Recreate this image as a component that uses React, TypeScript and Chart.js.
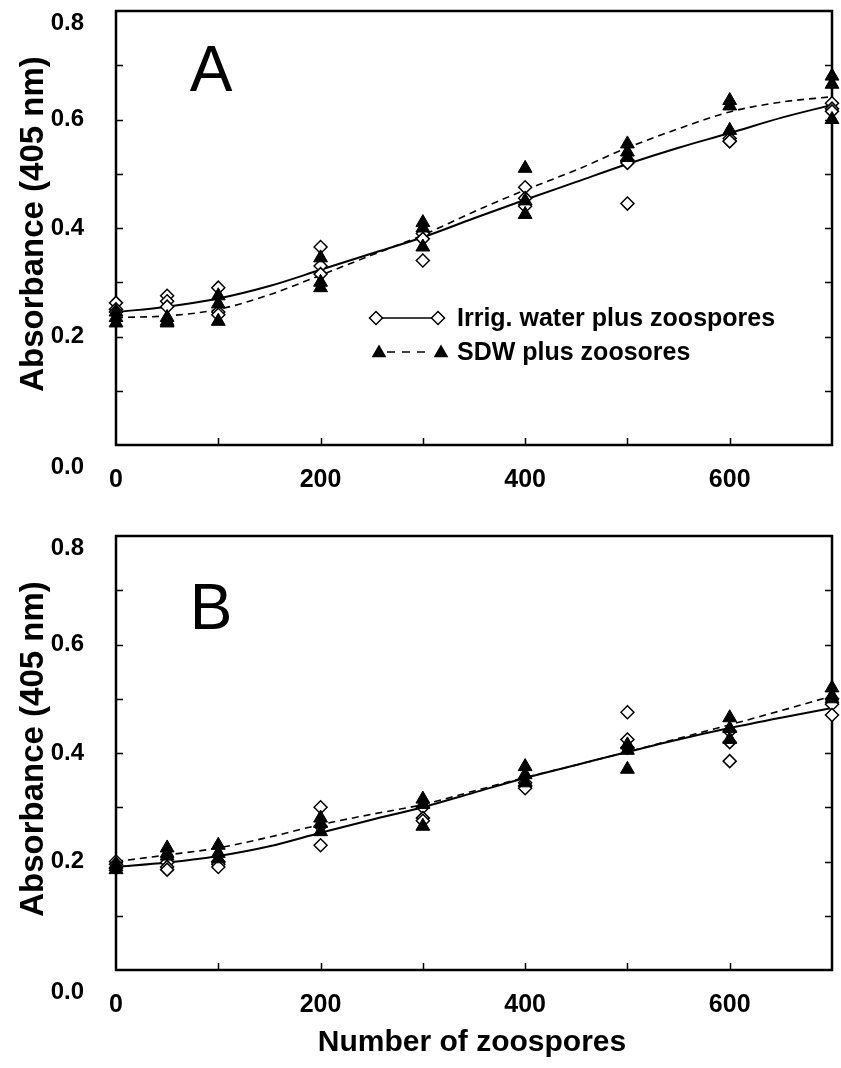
import React, { useEffect, useRef } from "react";
import { Chart, registerables } from "chart.js";

Chart.register(...registerables);

// ---------- data ----------
const REP_X = [0, 50, 100, 200, 300, 400, 500, 600, 700];

// Panel A replicates
const A_IRRIG_1 = [0.262, 0.275, 0.29, 0.365, 0.39, 0.475, 0.525, 0.565, 0.63];
const A_IRRIG_2 = [0.25, 0.265, 0.245, 0.33, 0.38, 0.455, 0.52, 0.56, 0.62];
const A_IRRIG_3 = [0.245, 0.255, 0.24, 0.315, 0.34, 0.44, 0.445, 0.56, 0.615];
const A_SDW_1 = [0.245, 0.235, 0.275, 0.345, 0.41, 0.51, 0.555, 0.635, 0.68];
const A_SDW_2 = [0.235, 0.228, 0.26, 0.3, 0.4, 0.45, 0.54, 0.625, 0.665];
const A_SDW_3 = [0.225, 0.225, 0.228, 0.29, 0.365, 0.425, 0.53, 0.58, 0.6];

// Panel B replicates
const B_IRRIG_1 = [0.2, 0.198, 0.2, 0.3, 0.3, 0.345, 0.475, 0.44, 0.5];
const B_IRRIG_2 = [0.195, 0.19, 0.195, 0.265, 0.28, 0.34, 0.425, 0.42, 0.49];
const B_IRRIG_3 = [0.188, 0.185, 0.19, 0.23, 0.275, 0.335, 0.41, 0.385, 0.47];
const B_SDW_1 = [0.195, 0.225, 0.23, 0.28, 0.315, 0.375, 0.415, 0.465, 0.52];
const B_SDW_2 = [0.19, 0.215, 0.215, 0.27, 0.305, 0.36, 0.405, 0.445, 0.505];
const B_SDW_3 = [0.185, 0.21, 0.205, 0.255, 0.265, 0.345, 0.37, 0.425, 0.5];

// Fitted curves
const CURVE_X = [0, 50, 100, 150, 200, 250, 300, 350, 400, 450, 500, 550, 600, 650, 700];
const A_IRRIG_FIT = [0.245, 0.255, 0.27, 0.293, 0.323, 0.353, 0.383, 0.418, 0.452, 0.485, 0.518, 0.548, 0.575, 0.603, 0.627];
const A_SDW_FIT = [0.235, 0.238, 0.25, 0.277, 0.313, 0.35, 0.387, 0.43, 0.47, 0.507, 0.548, 0.583, 0.614, 0.632, 0.642];
const B_IRRIG_FIT = [0.19, 0.198, 0.21, 0.228, 0.253, 0.277, 0.3, 0.327, 0.354, 0.378, 0.402, 0.425, 0.446, 0.465, 0.483];
const B_SDW_FIT = [0.2, 0.212, 0.225, 0.245, 0.268, 0.287, 0.305, 0.33, 0.355, 0.378, 0.402, 0.427, 0.452, 0.478, 0.505];

// Axis ticks & text
const X_TICK_LABELS = ["0", "200", "400", "600"];
const Y_TICK_VALUES = [0, 0.2, 0.4, 0.6, 0.8];
const X_MINOR_TICKS = [100, 200, 300, 400, 500, 600];
const Y_MINOR_TICKS = [0.1, 0.2, 0.3, 0.4, 0.5, 0.6, 0.7];
const LEGEND_LABELS = ["Irrig. water plus zoospores", "SDW plus zoosores"];
const PANEL_LABELS = ["A", "B"];
const X_TITLE = "Number of zoospores";
const Y_TITLE = "Absorbance (405 nm)";

const FONT = "'Liberation Sans', Arial, Helvetica, sans-serif";

type Panel = {
  letter: string;
  irrig: number[][];
  sdw: number[][];
  irrigFit: number[];
  sdwFit: number[];
  height: number;
  padTop: number;
  areaBottom: number;
  legend: boolean;
  xTitle: boolean;
  letterOffset: number;
};

const PANELS: Panel[] = [
  {
    letter: PANEL_LABELS[0],
    irrig: [A_IRRIG_1, A_IRRIG_2, A_IRRIG_3],
    sdw: [A_SDW_1, A_SDW_2, A_SDW_3],
    irrigFit: A_IRRIG_FIT,
    sdwFit: A_SDW_FIT,
    height: 500,
    padTop: 11,
    areaBottom: 445,
    legend: true,
    xTitle: false,
    letterOffset: 62,
  },
  {
    letter: PANEL_LABELS[1],
    irrig: [B_IRRIG_1, B_IRRIG_2, B_IRRIG_3],
    sdw: [B_SDW_1, B_SDW_2, B_SDW_3],
    irrigFit: B_IRRIG_FIT,
    sdwFit: B_SDW_FIT,
    height: 568,
    padTop: 36,
    areaBottom: 470,
    legend: false,
    xTitle: true,
    letterOffset: 75,
  },
];

function reps(xs: number[], series: number[][]) {
  const out: { x: number; y: number }[] = [];
  series.forEach((arr) => arr.forEach((v, i) => out.push({ x: xs[i], y: v })));
  return out;
}
function line(xs: number[], ys: number[]) {
  return ys.map((v, i) => ({ x: xs[i], y: v }));
}

function drawDiamond(ctx: CanvasRenderingContext2D, x: number, y: number, r: number) {
  ctx.beginPath();
  ctx.moveTo(x, y - r);
  ctx.lineTo(x + r, y);
  ctx.lineTo(x, y + r);
  ctx.lineTo(x - r, y);
  ctx.closePath();
  ctx.fillStyle = "#fff";
  ctx.fill();
  ctx.lineWidth = 1.5;
  ctx.strokeStyle = "#000";
  ctx.stroke();
}
function drawTriangle(ctx: CanvasRenderingContext2D, x: number, y: number, r: number) {
  ctx.beginPath();
  ctx.moveTo(x, y - r);
  ctx.lineTo(x + r * 0.866, y + r * 0.5);
  ctx.lineTo(x - r * 0.866, y + r * 0.5);
  ctx.closePath();
  ctx.fillStyle = "#000";
  ctx.fill();
}

function makeConfig(p: Panel): any {
  const frame = {
    id: "frame",
    beforeDatasetsDraw(chart: any) {
      const { ctx, chartArea, scales } = chart;
      const { left, right, top, bottom } = chartArea;
      ctx.save();
      ctx.strokeStyle = "#000";
      ctx.lineWidth = 2.5;
      ctx.strokeRect(left, top, right - left, bottom - top);
      ctx.lineWidth = 1.5;
      ctx.beginPath();
      Y_MINOR_TICKS.forEach((v) => {
        const py = Math.round(scales.y.getPixelForValue(v)) + 0.5;
        ctx.moveTo(left, py);
        ctx.lineTo(left + 7, py);
        ctx.moveTo(right, py);
        ctx.lineTo(right - 7, py);
      });
      X_MINOR_TICKS.forEach((v) => {
        const px = Math.round(scales.x.getPixelForValue(v)) + 0.5;
        ctx.moveTo(px, bottom);
        ctx.lineTo(px, bottom - 7);
      });
      ctx.stroke();
      ctx.restore();
    },
    afterDraw(chart: any) {
      const { ctx, chartArea, scales } = chart;
      const { left, right, top, bottom } = chartArea;
      ctx.save();
      ctx.fillStyle = "#000";
      // y tick labels (end labels sit inside the frame like the original)
      ctx.font = `bold 24px ${FONT}`;
      ctx.textAlign = "right";
      ctx.textBaseline = "middle";
      Y_TICK_VALUES.forEach((v) => {
        let py = scales.y.getPixelForValue(v);
        if (v === 0) py += 22;
        if (v === 0.8) py += 12;
        ctx.fillText(v.toFixed(1), 84, py);
      });
      // y title
      ctx.save();
      ctx.translate(34, top + 213);
      ctx.rotate(-Math.PI / 2);
      ctx.font = `bold 33px ${FONT}`;
      ctx.textAlign = "center";
      ctx.textBaseline = "middle";
      ctx.fillText(Y_TITLE, 0, 0);
      ctx.restore();
      // panel letter
      ctx.font = `64px ${FONT}`;
      ctx.textAlign = "center";
      ctx.textBaseline = "middle";
      ctx.fillText(p.letter, 211, top + p.letterOffset);
      // x title
      if (p.xTitle) {
        ctx.font = `bold 30px ${FONT}`;
        ctx.textAlign = "center";
        ctx.textBaseline = "middle";
        ctx.fillText(X_TITLE, (left + right) / 2 - 2, bottom + 73);
      }
      // legend
      if (p.legend) {
        const y1 = 318;
        const y2 = 352;
        const xa = 376;
        const xb = 438;
        ctx.strokeStyle = "#000";
        ctx.lineWidth = 1.5;
        ctx.beginPath();
        ctx.moveTo(xa, y1);
        ctx.lineTo(xb, y1);
        ctx.stroke();
        drawDiamond(ctx, xa, y1, 6.5);
        drawDiamond(ctx, xb, y1, 6.5);
        ctx.setLineDash([8, 7]);
        ctx.beginPath();
        ctx.moveTo(xa + 11, y2);
        ctx.lineTo(xb - 7, y2);
        ctx.stroke();
        ctx.setLineDash([]);
        drawTriangle(ctx, xa + 3, y2 + 1, 8.5);
        drawTriangle(ctx, xb + 3, y2 + 1, 8.5);
        ctx.fillStyle = "#000";
        ctx.font = `bold 25px ${FONT}`;
        ctx.textAlign = "left";
        ctx.textBaseline = "middle";
        ctx.fillText(LEGEND_LABELS[0], 457, y1 + 1);
        ctx.fillText(LEGEND_LABELS[1], 457, y2 + 1);
      }
      ctx.restore();
    },
  };

  return {
    type: "scatter",
    data: {
      datasets: [
        {
          label: LEGEND_LABELS[1],
          data: reps(REP_X, p.sdw),
          pointStyle: "triangle",
          pointRadius: 8,
          backgroundColor: "#000",
          borderColor: "#000",
          borderWidth: 1,
          showLine: false,
          clip: false,
        },
        {
          label: LEGEND_LABELS[0],
          data: reps(REP_X, p.irrig),
          pointStyle: "rectRot",
          pointRadius: 6.5,
          backgroundColor: "#fff",
          borderColor: "#000",
          borderWidth: 1.5,
          showLine: false,
          clip: false,
        },
        {
          label: "irrig fit",
          data: line(CURVE_X, p.irrigFit),
          showLine: true,
          pointRadius: 0,
          borderColor: "#000",
          borderWidth: 2,
          cubicInterpolationMode: "monotone",
          fill: false,
          clip: false,
        },
        {
          label: "sdw fit",
          data: line(CURVE_X, p.sdwFit),
          showLine: true,
          pointRadius: 0,
          borderColor: "#000",
          borderWidth: 1.6,
          borderDash: [7, 5],
          cubicInterpolationMode: "monotone",
          fill: false,
          clip: false,
        },
      ],
    },
    options: {
      responsive: false,
      animation: false,
      events: [],
      devicePixelRatio: 1,
      layout: { padding: { top: p.padTop, right: 3, left: 0, bottom: 0 } },
      plugins: { legend: { display: false }, tooltip: { enabled: false } },
      scales: {
        x: {
          type: "linear",
          min: 0,
          max: 700,
          grid: { display: false, drawTicks: false },
          border: { display: false },
          ticks: {
            stepSize: 100,
            padding: 20,
            color: "#000",
            font: { family: FONT, size: 25, weight: "bold" },
            maxRotation: 0,
            autoSkip: false,
            callback: (v: any) => (X_TICK_LABELS.includes(String(v)) ? String(v) : ""),
          },
          afterFit: (s: any) => {
            s.height = p.height - p.areaBottom;
            s.paddingLeft = 0;
            s.paddingRight = 0;
          },
        },
        y: {
          type: "linear",
          min: 0,
          max: 0.8,
          grid: { display: false, drawTicks: false },
          border: { display: false },
          ticks: {
            stepSize: 0.1,
            color: "rgba(0,0,0,0)",
            callback: () => "",
          },
          afterFit: (s: any) => {
            s.width = 116;
            s.paddingTop = 0;
            s.paddingBottom = 0;
          },
        },
      },
    },
    plugins: [frame],
  };
}

function PanelChart({ panel, top }: { panel: Panel; top: number }) {
  const ref = useRef<HTMLCanvasElement | null>(null);
  useEffect(() => {
    if (!ref.current) return;
    const chart = new Chart(ref.current, makeConfig(panel));
    return () => chart.destroy();
  }, [panel]);
  return (
    <canvas
      ref={ref}
      width={841}
      height={panel.height}
      style={{ position: "absolute", left: 0, top, width: 841, height: panel.height, display: "block" }}
    />
  );
}

export default function App() {
  return (
    <div style={{ position: "absolute", left: 0, top: 0, width: 841, height: 1068, background: "#fff", overflow: "hidden" }}>
      <PanelChart panel={PANELS[0]} top={0} />
      <PanelChart panel={PANELS[1]} top={500} />
    </div>
  );
}
